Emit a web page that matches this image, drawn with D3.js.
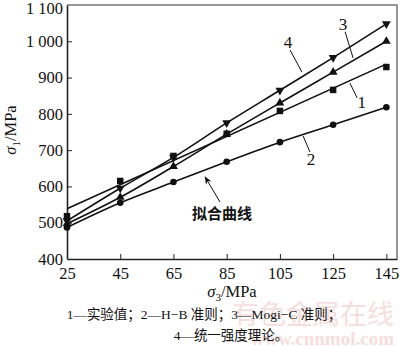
<!DOCTYPE html>
<html><head><meta charset="utf-8">
<script src="https://cdn.jsdelivr.net/npm/d3@7"></script>
<style>
html,body{margin:0;padding:0;background:#fff;}
svg{display:block;font-family:"Liberation Serif","Noto Sans CJK SC",serif;}
</style></head>
<body><svg id="c" width="400" height="347"></svg>
<script>
// ---- data ----
const sigma3 = [25, 45, 65, 85, 105, 125, 145];
const experimental = [518, 615, 684, 745, 808, 866, 929];   // 1 实验值
const hoekBrown    = [487, 555, 612, 668, 722, 770, 818];   // 2 H-B
const mogiC        = [497, 570, 655, 744, 830, 915, 1000];  // 3 Mogi-C
const unified      = [505, 595, 680, 775, 865, 955, 1048];  // 4 统一强度理论
const xTicks = [25, 45, 65, 85, 105, 125, 145];
const yTicks = [400, 500, 600, 700, 800, 900, 1000, 1100];
const yTickLabels = ["400", "500", "600", "700", "800", "900", "1 000", "1 100"];
const seriesLabels = ["1", "2", "3", "4"];
const captionLine1 = "1—实验值；2—H−B 准则；3—Mogi−C 准则；";
const captionLine2 = "4—统一强度理论。";
const fitText = "拟合曲线";

const svg = d3.select("#c");
const x = d3.scaleLinear().domain([25, 149]).range([67, 397]);
const y = d3.scaleLinear().domain([400, 1100]).range([259, 5]);

// frame top/right
svg.append("path")
  .attr("d", `M${x(25)},${y(1100)}H${x(149)}V${y(400)}`)
  .attr("fill", "none").attr("stroke", "#777").attr("stroke-width", 1.5);

// axes (ticks inward)
const xAxis = d3.axisBottom(x).tickValues(xTicks).tickSizeInner(-5).tickSizeOuter(0).tickPadding(6);
const gx = svg.append("g").attr("transform", `translate(0,${y(400)})`).call(xAxis);
const yAxis = d3.axisLeft(y).tickValues(yTicks).tickSizeInner(-5).tickSizeOuter(0).tickPadding(4)
  .tickFormat((d, i) => yTickLabels[i]);
const gy = svg.append("g").attr("transform", `translate(${x(25)},0)`).call(yAxis);
[gx, gy].forEach(g => {
  g.attr("font-family", "Liberation Serif, serif");
  g.select(".domain").attr("stroke", "#222").attr("stroke-width", 1.6);
  g.selectAll(".tick line").attr("stroke", "#222").attr("stroke-width", 1);
  g.selectAll(".tick text").attr("font-size", 16.5).attr("fill", "#111")
    .attr("font-family", "Liberation Serif, serif");
});
gx.selectAll(".tick text").attr("dy", "0.85em");
gy.selectAll(".tick").filter(d => d === 1100).select("text").attr("dy", "0.5em");
gx.selectAll(".tick").filter(d => d === 25).select("line").remove();
gy.selectAll(".tick").filter(d => d === 400 || d === 1100).select("line").remove();

// lines
const pts = vals => sigma3.map((s, i) => [s, vals[i]]);
const lineGen = d3.line().x(d => x(d[0])).y(d => y(d[1])).curve(d3.curveMonotoneX);
// least-squares fit for experimental
function fit(vals) {
  const mx = d3.mean(sigma3), my = d3.mean(vals);
  let sxy = 0, sxx = 0;
  sigma3.forEach((s, i) => { sxy += (s - mx) * (vals[i] - my); sxx += (s - mx) ** 2; });
  const b = sxy / sxx, a = my - b * mx;
  return [[25, a + b * 25], [145, a + b * 145]];
}
const g = svg.append("g").attr("fill", "none").attr("stroke", "#111").attr("stroke-width", 1.6);
g.append("path").attr("d", lineGen(fit(experimental)));
g.append("path").attr("d", lineGen(pts(hoekBrown)));
g.append("path").attr("d", lineGen(pts(mogiC)));
g.append("path").attr("d", lineGen(pts(unified)));

// markers
function markers(vals, type, size, rot) {
  svg.append("g").selectAll("path").data(pts(vals)).join("path")
    .attr("d", d3.symbol().type(type).size(size))
    .attr("transform", d => `translate(${x(d[0])},${y(d[1])}) rotate(${rot})`)
    .attr("fill", "#111");
}
markers(experimental, d3.symbolSquare, 42, 0);
markers(hoekBrown, d3.symbolCircle, 34, 0);
markers(mogiC, d3.symbolTriangle, 34, 0);
markers(unified, d3.symbolTriangle, 34, 180);

// annotations (data coordinates)
const ann = [
  { t: seriesLabels[0], tx: 135.8, ty: 830, l: [[131.3, 885], [134.0, 844]] },
  { t: seriesLabels[1], tx: 116.7, ty: 673, l: [[113.7, 739], [116.3, 695]] },
  { t: seriesLabels[2], tx: 128.7, ty: 1045, l: [[129.5, 1026], [132.5, 954]] },
  { t: seriesLabels[3], tx: 108.0, ty: 998, l: [[108.8, 976], [113.3, 915]] }
];
ann.forEach(a => {
  svg.append("line").attr("x1", x(a.l[0][0])).attr("y1", y(a.l[0][1]))
    .attr("x2", x(a.l[1][0])).attr("y2", y(a.l[1][1]))
    .attr("stroke", "#111").attr("stroke-width", 1);
  svg.append("text").attr("x", x(a.tx)).attr("y", y(a.ty))
    .attr("text-anchor", "middle").attr("dominant-baseline", "central")
    .attr("font-size", 17).attr("fill", "#111").text(a.t);
});

// fit curve arrow
svg.append("defs").append("marker").attr("id", "ah").attr("viewBox", "0 0 10 10")
  .attr("refX", 9).attr("refY", 5).attr("markerWidth", 8).attr("markerHeight", 8)
  .attr("orient", "auto").attr("markerUnits", "userSpaceOnUse")
  .append("path").attr("d", "M0,1 L10,5 L0,9 L3,5 Z").attr("fill", "#111");
svg.append("line").attr("x1", x(82.5)).attr("y1", y(557)).attr("x2", x(76.9)).attr("y2", y(626))
  .attr("stroke", "#111").attr("stroke-width", 1).attr("marker-end", "url(#ah)");
svg.append("text").attr("x", x(83.2)).attr("y", y(527)).attr("text-anchor", "middle")
  .attr("dominant-baseline", "central").attr("font-size", 15).attr("font-weight", "bold")
  .attr("font-family", "Noto Sans CJK SC").attr("fill", "#111").text(fitText);

// axis titles
const yl = svg.append("text").attr("transform", "translate(16,130) rotate(-90)")
  .attr("text-anchor", "middle").attr("font-size", 16.5).attr("fill", "#111");
yl.append("tspan").attr("font-style", "italic").text("σ");
yl.append("tspan").attr("font-size", 11).attr("dy", 4).text("1");
yl.append("tspan").attr("dy", -4).text("/MPa");

const xl = svg.append("text").attr("x", 232).attr("y", 297)
  .attr("text-anchor", "middle").attr("font-size", 16.5).attr("fill", "#111");
xl.append("tspan").attr("font-style", "italic").text("σ");
xl.append("tspan").attr("font-size", 11).attr("dy", 4).text("3");
xl.append("tspan").attr("dy", -4).text("/MPa");

// watermark
svg.append("text").attr("x", 394).attr("y", 324).attr("text-anchor", "end")
  .attr("font-size", 27).attr("font-family", "Noto Sans CJK SC").attr("fill", "#f6dede").text("有色金属在线");
svg.append("text").attr("x", 394).attr("y", 345).attr("text-anchor", "end")
  .attr("font-size", 19).attr("font-family", "Liberation Serif").attr("font-weight", "bold").attr("fill", "#f6dede").text("www.cnnmol.com");

// caption
svg.append("text").attr("x", 204).attr("y", 319).attr("text-anchor", "middle")
  .attr("font-size", 13.5).attr("fill", "#111").text(captionLine1);
svg.append("text").attr("x", 231).attr("y", 340).attr("text-anchor", "middle")
  .attr("font-size", 13.5).attr("fill", "#111").text(captionLine2);
</script></body></html>
